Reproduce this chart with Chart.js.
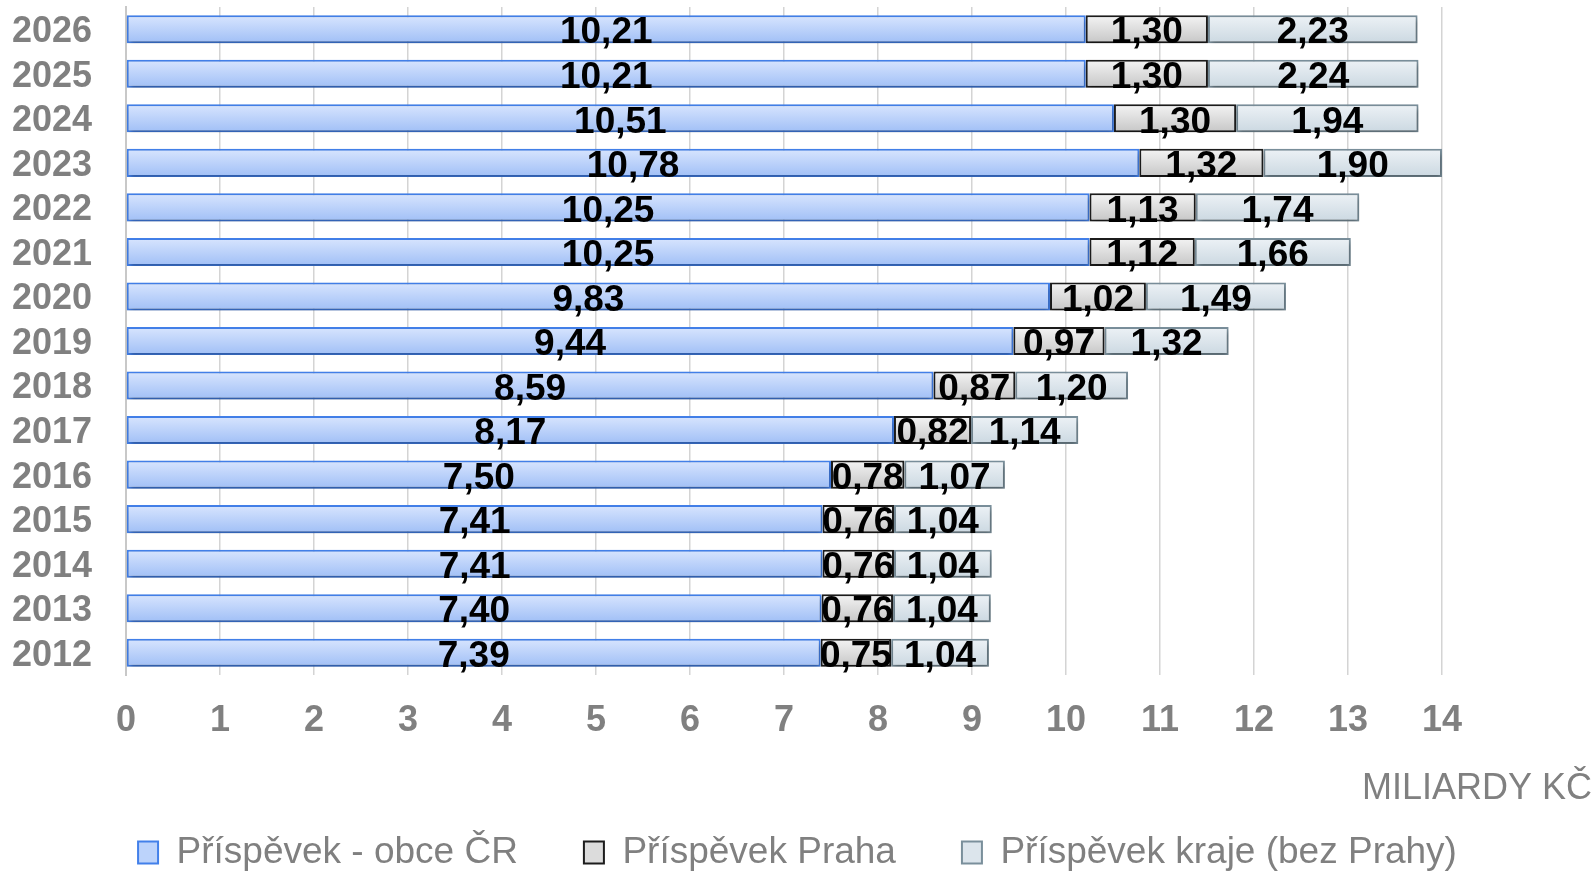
<!DOCTYPE html>
<html>
<head>
<meta charset="utf-8">
<script src="https://cdn.jsdelivr.net/npm/chart.js@4"></script>
<style>
  html, body { margin: 0; padding: 0; background: #fff; }
  #wrap { width: 1595px; height: 871px; }
</style>
</head>
<body>
<div id="wrap"><canvas id="chart" width="1595" height="871"></canvas></div>
<script>
// roky a hodnoty (mld. Kč), odshora dolů
const years = ['2026', '2025', '2024', '2023', '2022', '2021', '2020', '2019', '2018', '2017', '2016', '2015', '2014', '2013', '2012'];
const obce  = [10.21, 10.21, 10.51, 10.78, 10.25, 10.25, 9.83, 9.44, 8.59, 8.17, 7.50, 7.41, 7.41, 7.40, 7.39];
const praha = [1.30, 1.30, 1.30, 1.32, 1.13, 1.12, 1.02, 0.97, 0.87, 0.82, 0.78, 0.76, 0.76, 0.76, 0.75];
const kraje = [2.23, 2.24, 1.94, 1.90, 1.74, 1.66, 1.49, 1.32, 1.20, 1.14, 1.07, 1.04, 1.04, 1.04, 1.04];
const seriesNames = ['Příspěvek - obce ČR', 'Příspěvek Praha', 'Příspěvek kraje (bez Prahy)'];
const xTicks = [0, 1, 2, 3, 4, 5, 6, 7, 8, 9, 10, 11, 12, 13, 14];
const axisTitle = 'MILIARDY KČ';

const BAR_PCT = 0.63;
const gray = '#808080';
const font = 'Liberation Sans, Arial, sans-serif';

const styles = [
    { top: '#d8e5fe', bottom: '#a0bff6', flat: '#bcd3fb', border: '#4280ea' },
    { top: '#f4f4f4', bottom: '#c6c6c6', flat: '#dcdcdc', border: '#1c1c1c' },
    { top: '#edf2f6', bottom: '#cbd8e1', flat: '#dce5ec', border: '#7a8f9b' }
];

// svislý gradient pro každý pruh zvlášť
function barGradient(s) {
    return (ctx) => {
        const chart = ctx.chart;
        const y = chart.scales.y;
        if (!chart.chartArea || !y || ctx.dataIndex === undefined) return s.flat;
        const cy = y.getPixelForValue(ctx.dataIndex);
        const half = (y.height / years.length) * BAR_PCT / 2;
        const g = chart.ctx.createLinearGradient(0, cy - half, 0, cy + half);
        g.addColorStop(0, s.top);
        g.addColorStop(1, s.bottom);
        return g;
    };
}

const fmt = v => v.toFixed(2).replace('.', ',');

const barEffects = {
    id: 'barEffects',
    beforeDatasetsDraw(chart) {
        const c = chart.ctx;
        c.save();
        c.shadowColor = 'rgba(0,0,0,0.35)';
        c.shadowBlur = 5;
        c.shadowOffsetX = 1;
        c.shadowOffsetY = 3;
    },
    afterDatasetsDraw(chart) {
        const c = chart.ctx;
        c.restore();
        c.save();
        c.font = 'bold 37px ' + font;
        c.fillStyle = '#000';
        c.textAlign = 'center';
        c.textBaseline = 'middle';
        chart.data.datasets.forEach((ds, di) => {
            const meta = chart.getDatasetMeta(di);
            meta.data.forEach((el, i) => {
                const p = el.getProps(['x', 'y', 'base'], true);
                c.fillText(fmt(ds.data[i]), (p.x + p.base) / 2, p.y + 4);
            });
        });
        c.restore();
    },
    afterDraw(chart) {
        const c = chart.ctx;
        c.save();
        c.font = '36px ' + font;
        c.fillStyle = gray;
        c.textAlign = 'right';
        c.textBaseline = 'middle';
        c.fillText(axisTitle, chart.width - 3, 789);
        c.restore();
    }
};

const datasets = [obce, praha, kraje].map((d, i) => ({
    label: seriesNames[i],
    data: d,
    backgroundColor: barGradient(styles[i]),
    borderColor: styles[i].border,
    borderWidth: 2,
    borderSkipped: false,
    barPercentage: BAR_PCT,
    categoryPercentage: 1
}));

new Chart(document.getElementById('chart'), {
    type: 'bar',
    data: { labels: years, datasets: datasets },
    options: {
        indexAxis: 'y',
        responsive: false,
        animation: false,
        layout: { padding: { top: 7, left: 0, right: 0, bottom: -10 } },
        plugins: {
            tooltip: { enabled: false },
            legend: {
                position: 'bottom',
                labels: {
                    color: gray,
                    font: { family: font, size: 37 },
                    boxWidth: 20,
                    boxHeight: 22,
                    padding: 66,
                    generateLabels: () => seriesNames.map((n, i) => ({
                        text: n,
                        fillStyle: styles[i].flat,
                        strokeStyle: styles[i].border,
                        fontColor: gray,
                        lineWidth: 2,
                        datasetIndex: i,
                        hidden: false
                    }))
                }
            }
        },
        scales: {
            x: {
                stacked: true,
                min: 0,
                max: 14,
                afterBuildTicks: axis => { axis.ticks = xTicks.map(v => ({ value: v })); },
                grid: { color: '#d4d4d4', lineWidth: 1.5, drawTicks: false },
                border: { display: false },
                ticks: {
                    color: gray,
                    padding: 24,
                    maxRotation: 0,
                    font: { family: font, size: 36, weight: 'bold' }
                },
                afterFit: axis => {
                    axis.height = 93;
                    axis.paddingLeft = 0;
                    axis.paddingRight = 153;
                }
            },
            y: {
                stacked: true,
                grid: { display: false, drawTicks: false },
                border: { display: true, color: '#c8c8c8', width: 2 },
                ticks: {
                    color: gray,
                    padding: 34,
                    labelOffset: 3,
                    autoSkip: false,
                    font: { family: font, size: 36, weight: 'bold' }
                },
                afterFit: axis => {
                    axis.width = 126;
                    axis.paddingTop = 0;
                    axis.paddingBottom = 0;
                }
            }
        }
    },
    plugins: [barEffects]
});
</script>
</body>
</html>
